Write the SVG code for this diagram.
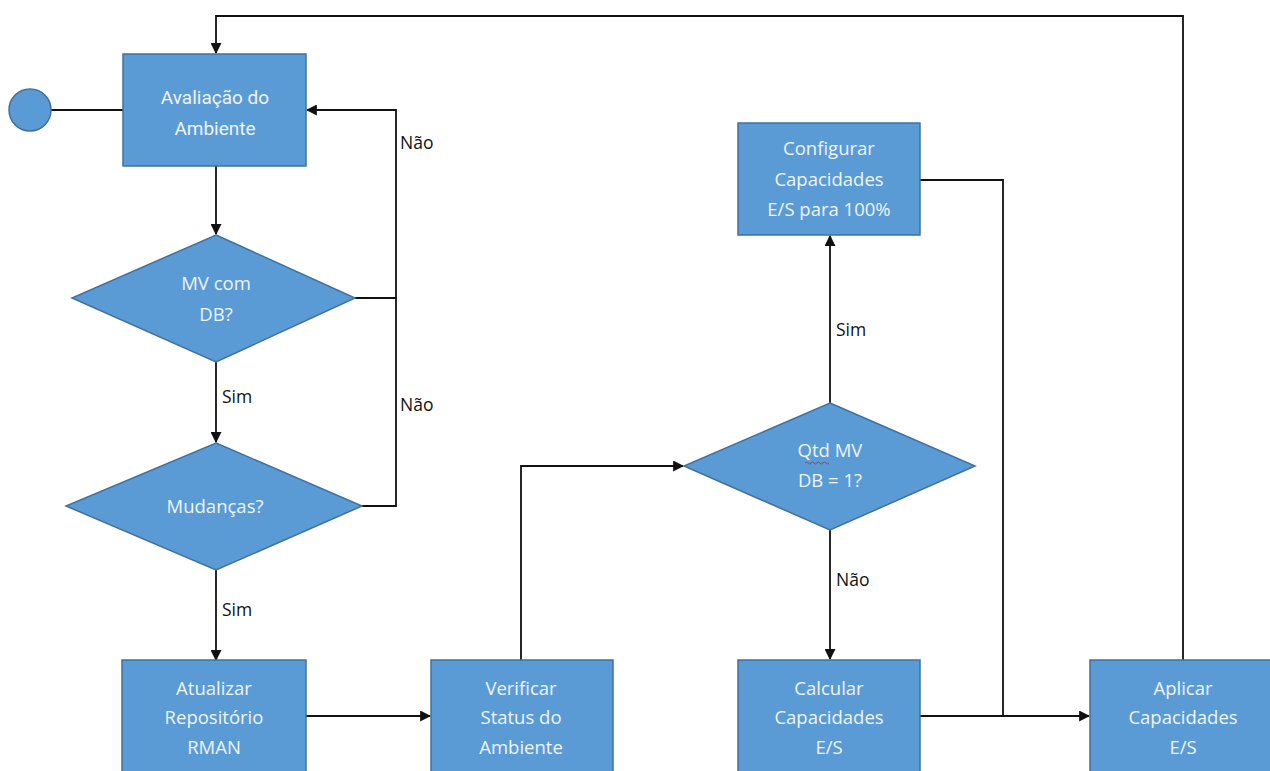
<svg xmlns="http://www.w3.org/2000/svg" width="1270" height="771" viewBox="0 0 1270 771">
<style>
.n{fill:#5B9BD5;stroke:#41719C;stroke-width:1.5}
.t{font-family:"Open Sans","Noto Sans",sans-serif;font-size:18.5px;fill:#EEF4FB;text-anchor:middle}
.r{font-family:Roboto,"Noto Sans",sans-serif;font-size:19px;fill:#EEF4FB;text-anchor:middle}
.l{font-family:"Open Sans","Noto Sans",sans-serif;font-size:17.5px;fill:#111;text-anchor:start}
.c{fill:none;stroke:#111;stroke-width:1.8}
</style>
<defs>
<marker id="a" viewBox="0 0 10 10" refX="9" refY="5" markerWidth="11" markerHeight="11" markerUnits="userSpaceOnUse" orient="auto">
<path d="M0,0 L10,5 L0,10 z" fill="#111"/>
</marker>
</defs>
<rect width="1270" height="771" fill="#fff"/>
<g id="connectors">
<path class="c" d="M51,110 H123"/>
<path class="c" d="M1183,660 V16 H216 V53" marker-end="url(#a)"/>
<path class="c" d="M216,166 V234" marker-end="url(#a)"/>
<path class="c" d="M355,298 H396 V110 H307" marker-end="url(#a)"/>
<path class="c" d="M362,506 H396 V298"/>
<path class="c" d="M216,362 V442" marker-end="url(#a)"/>
<path class="c" d="M216,570 V660" marker-end="url(#a)"/>
<path class="c" d="M306,716 H430" marker-end="url(#a)"/>
<path class="c" d="M521,660 V466 H683" marker-end="url(#a)"/>
<path class="c" d="M830,403 V236" marker-end="url(#a)"/>
<path class="c" d="M830,530 V659" marker-end="url(#a)"/>
<path class="c" d="M920,180 H1003 V716"/>
<path class="c" d="M920,716 H1089" marker-end="url(#a)"/>
<text class="l" x="400" y="149">Não</text>
<text class="l" x="400" y="411">Não</text>
<text class="l" x="222" y="403">Sim</text>
<text class="l" x="222" y="616">Sim</text>
<text class="l" x="836" y="336">Sim</text>
<text class="l" x="836" y="586">Não</text>
</g>
<g id="start"><circle cx="30" cy="110" r="21" class="n"/></g>
<g id="avaliacao">
<rect class="n" x="123" y="54" width="183" height="112"/>
<text class="r" x="215" y="104">Avaliação do</text>
<text class="r" x="215" y="135">Ambiente</text>
</g>
<g id="mvcomdb">
<polygon class="n" points="216,235 355,298 216,362 72,298"/>
<text class="t" x="216" y="290">MV com</text>
<text class="t" x="216" y="321">DB?</text>
</g>
<g id="mudancas">
<polygon class="n" points="216,443 362,506 216,570 66,506"/>
<text class="t" x="215" y="513">Mudanças?</text>
</g>
<g id="atualizar">
<rect class="n" x="122" y="660" width="184" height="115"/>
<text class="t" x="214" y="695">Atualizar</text>
<text class="t" x="214" y="724">Repositório</text>
<text class="t" x="214" y="754">RMAN</text>
</g>
<g id="verificar">
<rect class="n" x="431" y="660" width="182" height="115"/>
<text class="t" x="521" y="695">Verificar</text>
<text class="t" x="521" y="724">Status do</text>
<text class="t" x="521" y="754">Ambiente</text>
</g>
<g id="qtdmv">
<polygon class="n" points="830,403 975,466 830,530 684,466"/>
<text class="t" x="830" y="457">Qtd MV</text>
<path d="M805,463 q1.5,-2 3,0 t3,0 t3,0 t3,0 t3,0 t3,0 t3,0 t3,0" fill="none" stroke="#C0392B" stroke-width="1"/>
<text class="t" x="830" y="487">DB = 1?</text>
</g>
<g id="configurar">
<rect class="n" x="738" y="123" width="182" height="112"/>
<text class="t" x="829" y="155">Configurar</text>
<text class="t" x="829" y="186">Capacidades</text>
<text class="t" x="829" y="216">E/S para 100%</text>
</g>
<g id="calcular">
<rect class="n" x="738" y="660" width="182" height="115"/>
<text class="t" x="829" y="695">Calcular</text>
<text class="t" x="829" y="724">Capacidades</text>
<text class="t" x="829" y="754">E/S</text>
</g>
<g id="aplicar">
<rect class="n" x="1090" y="660" width="185" height="115"/>
<text class="t" x="1183" y="695">Aplicar</text>
<text class="t" x="1183" y="724">Capacidades</text>
<text class="t" x="1183" y="754">E/S</text>
</g>
</svg>
